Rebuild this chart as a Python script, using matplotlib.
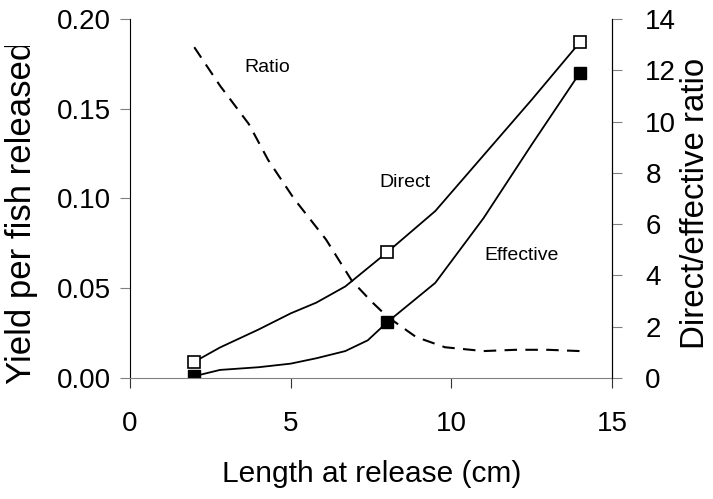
import matplotlib
matplotlib.use("Agg")
import matplotlib.pyplot as plt
from matplotlib.transforms import Bbox, TransformedBbox

plt.rcParams['font.family'] = ['Liberation Sans', 'DejaVu Sans']

# direct yield per fish released
direct_x = [2, 2.8, 4, 5, 5.8, 6.7, 8, 9.5, 11, 12.5, 14]
direct_y = [0.009, 0.017, 0.027, 0.036, 0.042, 0.051, 0.070, 0.093, 0.124, 0.155, 0.187]
# effective yield per fish released
eff_x = [2, 2.8, 4, 5, 5.8, 6.7, 7.4, 8, 9.5, 11, 12.5, 14]
eff_y = [0.001, 0.0045, 0.006, 0.008, 0.011, 0.015, 0.021, 0.031, 0.053, 0.089, 0.130, 0.170]
# marker points (release lengths modelled)
mark_x = [2, 8, 14]
mark_direct = [0.009, 0.070, 0.187]
mark_eff = [0.001, 0.031, 0.170]
# direct/effective ratio
ratio_x = [2, 2.8, 3.7, 4.3, 5.1, 6.1, 6.9, 7.5, 8, 8.9, 9.8, 11, 12, 13, 14]
ratio_y = [12.9, 11.4, 9.9, 8.5, 7.0, 5.4, 3.8, 3.0, 2.4, 1.6, 1.2, 1.05, 1.1, 1.1, 1.05]

W, H = 713, 499
fig = plt.figure(figsize=(W/100, H/100), dpi=100)
ax = fig.add_axes([130/W, 1-378/H, (612-130)/W, (378-19)/H])
ax2 = ax.twinx()

ax.plot(direct_x, direct_y, color='black', lw=1.3)
ax.plot(eff_x, eff_y, color='black', lw=1.3)
ax.plot(mark_x, mark_direct, ls='none', marker='s', ms=8, mfc='white', mec='black', mew=1.2)
ax.plot(mark_x, mark_eff, ls='none', marker='s', ms=8, mfc='black', mec='black')
ax2.plot(ratio_x, ratio_y, color='black', lw=1.5, ls=(0, (6, 4)))

ax.set_xlim(0, 15)
ax.set_ylim(0, 0.20)
ax2.set_ylim(0, 14)
ax.set_xticks([0, 5, 10, 15])
ax.set_yticks([0, 0.05, 0.10, 0.15, 0.20])
ax.set_yticklabels(['0.00', '0.05', '0.10', '0.15', '0.20'])
ax2.set_yticks(range(0, 15, 2))

for a in (ax, ax2):
    a.spines['top'].set_visible(False)
    a.tick_params(labelsize=20, colors='black')
ax.spines['bottom'].set_color('#808080')
ax.tick_params(axis='x', length=7, color='#333333', pad=17)
ax.tick_params(axis='y', length=7, color='#808080', pad=7)
ax2.tick_params(axis='y', length=7, color='#808080', pad=17)
ax2.spines['left'].set_visible(False)
ax2.spines['bottom'].set_visible(False)

# axis titles placed in pixels of the figure
fig.text(372/W, 1-474/H, 'Length at release (cm)', fontsize=21.5, ha='center', va='center')
yl = fig.text(22/W, 1-212/H, 'Yield per fish released', fontsize=25, rotation=90,
              ha='center', va='center')
# the original label is cut at the top edge
yl.set_clip_on(True)
yl.set_clip_box(TransformedBbox(Bbox([[0, 0], [1, (H-46)/H]]), fig.transFigure))
fig.text(695/W, 1-203/H, 'Direct/effective ratio', fontsize=23.8, rotation=90,
         ha='center', va='center')

ax.text(4.26, 0.173, 'Ratio', fontsize=14, ha='center', va='center')
ax.text(8.56, 0.109, 'Direct', fontsize=14, ha='center', va='center')
ax.text(12.2, 0.0685, 'Effective', fontsize=14, ha='center', va='center')

fig.savefig('out.png', dpi=100)
